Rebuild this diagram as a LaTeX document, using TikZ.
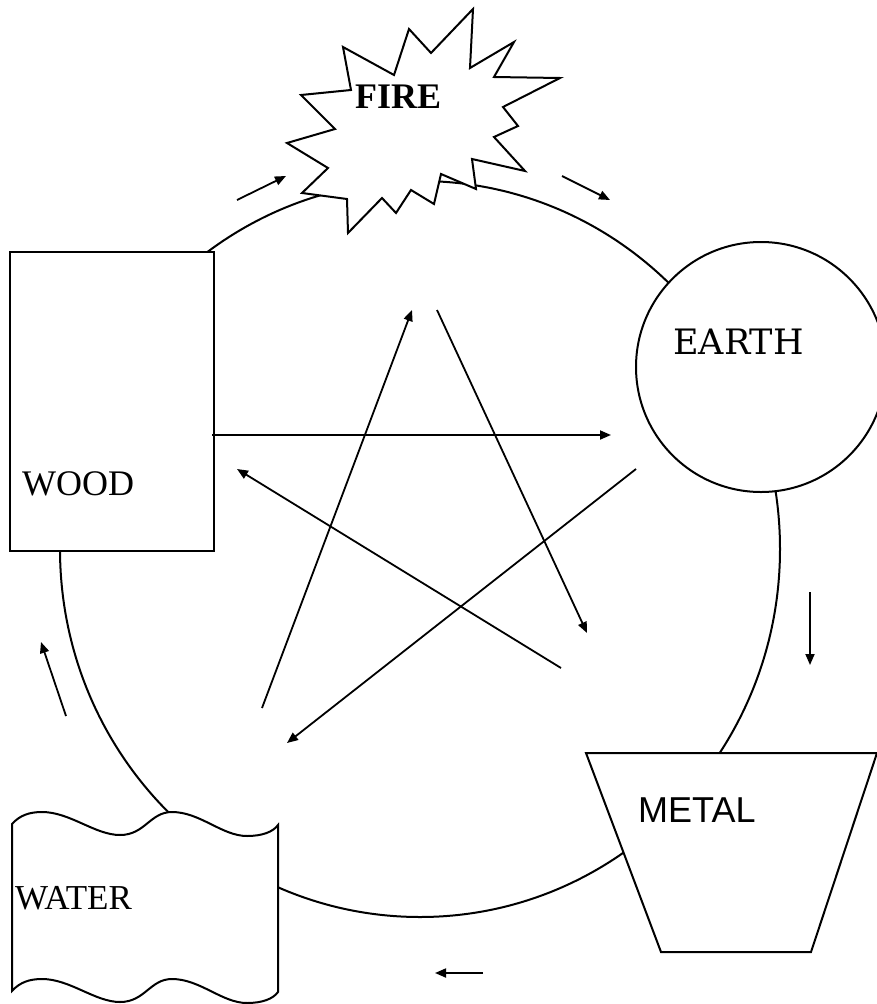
\documentclass[tikz,border=0pt]{standalone}
\usepackage{fontspec}
\setmainfont{Liberation Serif}
\newfontfamily\earthfont{DejaVu Serif}
\newfontfamily\metalfont{Liberation Sans}
\usetikzlibrary{arrows.meta}

\begin{document}
\begin{tikzpicture}[x=1pt, y=-1pt,
	outline/.style={draw=black, line width=2pt, fill=white, line join=miter},
	flow/.style={line width=1.8pt, -{Triangle[length=11pt, width=9pt]}},
	big/.style={inner sep=0pt, anchor=base west, font=\fontsize{36}{40}\selectfont}]
				\useasboundingbox (0,0) rectangle (877,1004);

				% Cycle ring
				\draw[line width=2pt] (420,549) ellipse [x radius=360, y radius=368];

				% Wood
				\node[outline, minimum width=204pt, minimum height=299pt, inner sep=0pt] (wood) at (112,401.5) {};
				\node[big] (woodtext) at (22,495) {WOOD};

				% Earth
				\node[outline, circle, minimum size=250pt, inner sep=0pt] (earth) at (761,367) {};
				\node[big, font=\fontsize{35}{40}\selectfont\earthfont] (earthtext) at (673,354) {EARTH};

				% Metal
				\draw[outline] (586,753) -- (877,753) -- (811,952) -- (661,952) -- cycle;
				\node[big, font=\fontsize{36}{40}\selectfont\metalfont] (metaltext) at (638,822) {METAL};

				% Water
				\draw[outline] (12,824) .. controls (20,815) and (30,812) .. (42,812)
					.. controls (70,812) and (95,835) .. (120,835)
					.. controls (145,835) and (150,812) .. (172,812)
					.. controls (200,812) and (222,836) .. (247,836)
					.. controls (262,836) and (273,832) .. (278,825)
					-- (278,992) .. controls (273,999) and (262,1003) .. (247,1003)
					.. controls (222,1003) and (200,979) .. (172,979)
					.. controls (150,979) and (145,1002) .. (120,1002)
					.. controls (95,1002) and (70,979) .. (42,979)
					.. controls (30,979) and (20,982) .. (12,991) -- cycle;
				\node[big, font=\fontsize{35}{40}\selectfont] (watertext) at (15,909) {WATER};

				% Fire
				\draw[outline] (473,9) -- (470,68) -- (514,42) -- (494,77) -- (560,78)
					-- (503,107) -- (518,126) -- (494,137) -- (525,171) -- (472,159)
					-- (476,189) -- (441,174) -- (434,204) -- (411,190) -- (396,213)
					-- (382,198) -- (348,233) -- (347,199) -- (302,193) -- (328,168)
					-- (287,143) -- (335,129) -- (301,95) -- (351,90) -- (343,47)
					-- (394,75) -- (409,29) -- (431,53) -- cycle;
				\node[big] (firetext) at (355,108) {\bfseries FIRE};

				% Generating cycle
				\coordinate (woodA) at (237,200);   \coordinate (fireB) at (286,176);
				\coordinate (fireA) at (562,176);   \coordinate (earthB) at (610,200);
				\coordinate (earthA) at (810,592);  \coordinate (metalB) at (810,665);
				\coordinate (metalA) at (483,973);  \coordinate (waterB) at (435,973);
				\coordinate (waterA) at (66,716);   \coordinate (woodB) at (41,642);
				\draw[flow] (woodA) -- (fireB);
				\draw[flow] (fireA) -- (earthB);
				\draw[flow] (earthA) -- (metalB);
				\draw[flow] (metalA) -- (waterB);
				\draw[flow] (waterA) -- (woodB);

				% Controlling star
				\coordinate (woodS) at (212,435);   \coordinate (earthT) at (611,435);
				\coordinate (earthS) at (636,469);  \coordinate (waterT) at (287,743);
				\coordinate (metalS) at (561,668);  \coordinate (woodT) at (237,469);
				\coordinate (waterS) at (262,708);  \coordinate (fireT) at (412,310);
				\coordinate (fireS) at (437,310);   \coordinate (metalT) at (587,633);
				\draw[flow] (woodS) -- (earthT);
				\draw[flow] (earthS) -- (waterT);
				\draw[flow] (metalS) -- (woodT);
				\draw[flow] (waterS) -- (fireT);
				\draw[flow] (fireS) -- (metalT);
			\end{tikzpicture}
\end{document}
